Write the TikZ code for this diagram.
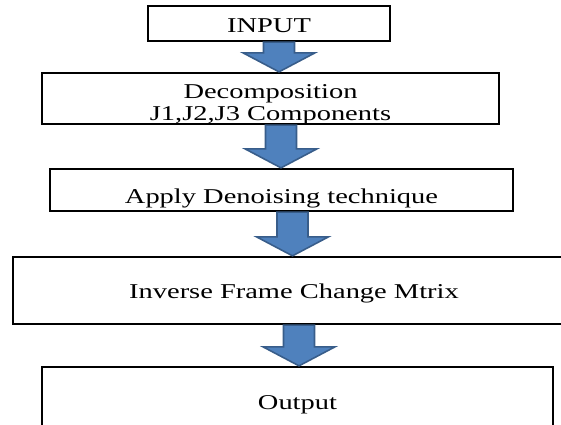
\documentclass[tikz,border=0pt]{standalone}
\usepackage{fontspec}
\setmainfont{Liberation Serif}[FakeStretch=1.35]
\usetikzlibrary{calc, positioning}

\definecolor{arrowblue}{HTML}{4F81BD}
\definecolor{arrowedge}{HTML}{385D8A}

% text set a little lower than the middle of its box
\newcommand{\dropby}[2]{\raisebox{-#1}[\height][\depth]{#2}}

% block arrow from one box down to the next: source, target, x position
\newcommand{\fatarrow}[3]{%
  \coordinate (ax) at (#3,0);
  \fill[arrowblue, draw=arrowedge, line width=0.9pt, line join=miter]
    ($(ax |- #1.south)+(-0.31,0)$) -- ($(ax |- #2.north)+(-0.31,0.38)$)
    -- ($(ax |- #2.north)+(-0.72,0.38)$) -- (ax |- #2.north)
    -- ($(ax |- #2.north)+(0.72,0.38)$) -- ($(ax |- #2.north)+(0.31,0.38)$)
    -- ($(ax |- #1.south)+(0.31,0)$) -- cycle;
}

\begin{document}
\begin{tikzpicture}[
  stage/.style={draw=black, line width=1.3pt, fill=white, inner sep=2pt,
    font=\fontsize{12}{12.5}\selectfont}
]
\useasboundingbox (0,0) rectangle (11.22,8.5);
\clip (0,0) rectangle (11.22,8.5);

% Boxes
\node[stage, minimum width=4.84cm, minimum height=0.70cm] (input) at (5.38,8.03)
  {\dropby{0.04cm}{INPUT}};
\node[stage, minimum width=9.14cm, minimum height=1.02cm, align=center] (decomp) at (5.41,6.53)
  {\dropby{0.12cm}{Decomposition}\\\dropby{0.12cm}{J1,J2,J3 Components}};
\node[stage, minimum width=9.26cm, minimum height=0.84cm, text depth=0pt] (denoise) at (5.63,4.70)
  {\dropby{0.13cm}{Apply Denoising technique}};
\node[stage, minimum width=11.24cm, minimum height=1.34cm] (inverse) at (5.88,2.69)
  {\dropby{0.06cm}{Inverse Frame Change Mtrix}};
\node[stage, minimum width=10.22cm, minimum height=1.36cm] (output) at (5.95,0.48)
  {\dropby{0.07cm}{Output}};

% Arrows
\fatarrow{input}{decomp}{5.58}
\fatarrow{decomp}{denoise}{5.62}
\fatarrow{denoise}{inverse}{5.85}
\fatarrow{inverse}{output}{5.98}
\end{tikzpicture}
\end{document}
